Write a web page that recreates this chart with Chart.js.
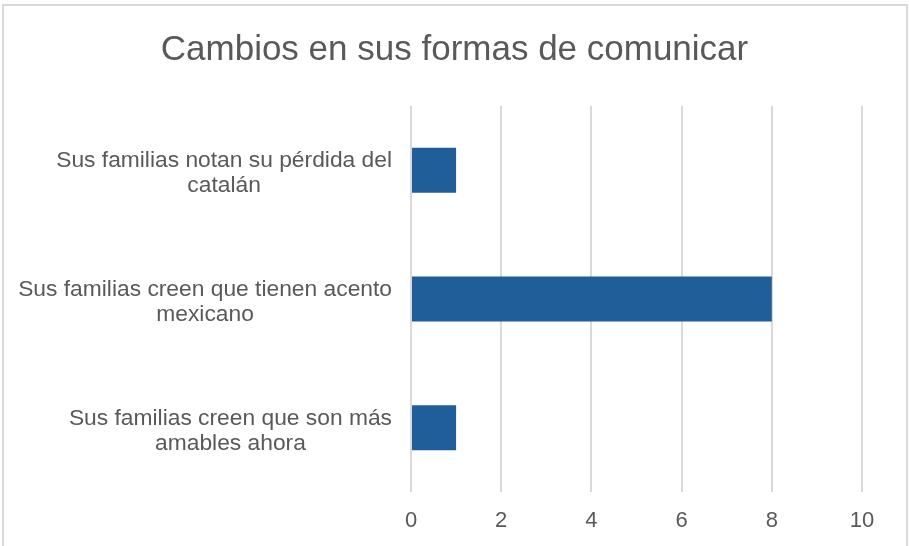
<!DOCTYPE html>
<html>
<head>
<meta charset="utf-8">
<script src="https://cdn.jsdelivr.net/npm/chart.js@4"></script>
<style>
  html, body { margin: 0; padding: 0; background: #ffffff; }
  #wrap { position: relative; width: 909px; height: 546px; overflow: hidden; }
  #frame { position: absolute; left: 2px; top: 4px; width: 906px; height: 600px; box-sizing: border-box; border: 2px solid #d9d9d9; pointer-events: none; }
</style>
</head>
<body>
<div id="wrap">
  <canvas id="c" width="909" height="546"></canvas>
  <div id="frame"></div>
</div>
<script>
const titleText = "Cambios en sus formas de comunicar";
const categories = [
  ["Sus familias notan su pérdida del", "catalán"],
  ["Sus familias creen que tienen acento", "mexicano"],
  ["Sus familias creen que son más", "amables ahora"]
];
const values = [1, 8, 1];
const xTicks = [0, 2, 4, 6, 8, 10];

const FONT = "'Liberation Sans', Arial, sans-serif";
const TEXT = "#595959";

const categoryLabelPlugin = {
  id: "categoryLabels",
  afterDraw(chart) {
    const ctx = chart.ctx;
    const yScale = chart.scales.y;
    const area = chart.chartArea;
    ctx.save();
    ctx.font = "22.8px " + FONT;
    ctx.fillStyle = TEXT;
    ctx.textAlign = "center";
    ctx.textBaseline = "alphabetic";
    categories.forEach((lines, i) => {
      const cy = yScale.getPixelForTick(i);
      const widest = Math.max(...lines.map(l => ctx.measureText(l).width));
      const right = area.left - 19;
      const cx = right - widest / 2;
      lines.forEach((line, j) => {
        ctx.fillText(line, cx, cy - 3 + j * 25);
      });
    });
    ctx.restore();
  }
};

new Chart(document.getElementById("c"), {
  type: "bar",
  data: {
    labels: categories,
    datasets: [{
      data: values,
      backgroundColor: "#1F5E99",
      borderWidth: 0,
      barPercentage: 0.35,
      categoryPercentage: 1.0
    }]
  },
  options: {
    indexAxis: "y",
    responsive: false,
    animation: false,
    layout: { padding: { left: 47, right: 47, top: 0, bottom: 0 } },
    plugins: {
      legend: { display: false },
      tooltip: { enabled: false },
      title: {
        display: true,
        text: titleText,
        color: TEXT,
        font: { family: FONT, size: 35, weight: "normal", lineHeight: 1.2 },
        padding: { top: 29, bottom: 35 }
      }
    },
    scales: {
      y: {
        ticks: { display: false },
        grid: { display: false },
        border: { display: false },
        afterFit(scale) { scale.width = 364; }
      },
      x: {
        min: 0,
        max: 10,
        afterBuildTicks(scale) { scale.ticks = xTicks.map(v => ({ value: v })); },
        ticks: {
          stepSize: 2,
          color: TEXT,
          padding: 16,
          font: { family: FONT, size: 22 }
        },
        grid: { color: "#d9d9d9", lineWidth: 2, drawTicks: false },
        border: { display: false },
        afterFit(scale) { scale.height = 54; }
      }
    }
  },
  plugins: [categoryLabelPlugin]
});
</script>
</body>
</html>
